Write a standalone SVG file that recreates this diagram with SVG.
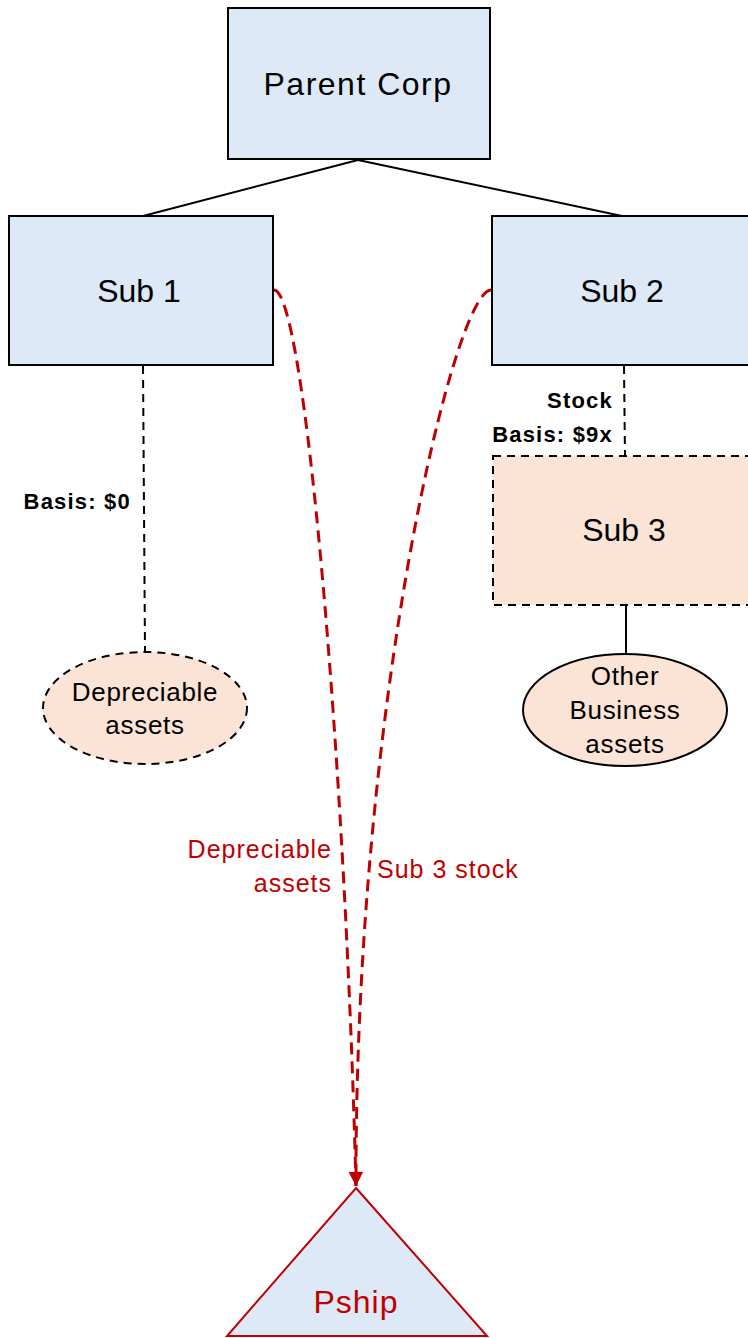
<svg xmlns="http://www.w3.org/2000/svg" width="748" height="1338" viewBox="0 0 748 1338">
  <style>
    .box { fill: #dde9f6; stroke: #000; stroke-width: 2; }
    .peach { fill: #fbe3d6; stroke: #000; stroke-width: 2; }
    .dash { stroke-dasharray: 8 6; }
    .lbl { font-family: "Liberation Sans", Arial, sans-serif; fill: #000; text-anchor: middle; }
    .big { font-size: 32px; }
    .mid { font-size: 26px; letter-spacing: 0.7px; }
    .note { font-family: "Liberation Sans", Arial, sans-serif; font-size: 22px; font-weight: bold; fill: #000; text-anchor: end; letter-spacing: 1.2px; }
    .red { font-family: "Liberation Sans", Arial, sans-serif; font-size: 25px; fill: #c00000; letter-spacing: 1px; }
    .link { fill: none; stroke: #000; stroke-width: 2; }
    .flow { fill: none; stroke: #c00000; stroke-width: 3; stroke-dasharray: 12 7; }
  </style>
  <defs>
    <marker id="arrow" viewBox="0 0 10 10" refX="10" refY="5" markerWidth="16" markerHeight="14" markerUnits="userSpaceOnUse" orient="auto">
      <path d="M0,0 L10,5 L0,10 Z" fill="#c00000"/>
    </marker>
  </defs>

  <!-- ownership and transfer lines -->
  <g id="connectors">
    <line class="link" x1="358" y1="160" x2="143" y2="216"/>
    <line class="link" x1="358" y1="160" x2="622" y2="216"/>
    <line class="link dash" x1="143" y1="366" x2="145" y2="652"/>
    <line class="link dash" x1="624" y1="366" x2="625" y2="456"/>
    <line class="link" x1="626" y1="605" x2="626" y2="654"/>
    <path class="flow" d="M274,290 C305,290 345,760 356,1186" marker-end="url(#arrow)"/>
    <path class="flow" d="M491,290 C455,290 355,700 356,1186" marker-end="url(#arrow)"/>
    <text class="note" x="131" y="509">Basis: $0</text>
    <text class="note" x="613" y="408">Stock</text>
    <text class="note" x="613" y="442">Basis: $9x</text>
    <text class="red" x="332" y="858" text-anchor="end">Depreciable</text>
    <text class="red" x="332" y="892" text-anchor="end">assets</text>
    <text class="red" x="377" y="878">Sub 3 stock</text>
  </g>

  <g id="parent">
    <rect class="box" x="228" y="8" width="262" height="151"/>
    <text class="lbl big" x="358" y="95" letter-spacing="1.5">Parent Corp</text>
  </g>

  <g id="sub1">
    <rect class="box" x="9" y="216" width="264" height="149"/>
    <text class="lbl big" x="139" y="302">Sub 1</text>
  </g>

  <g id="sub2">
    <rect class="box" x="492" y="216" width="280" height="149"/>
    <text class="lbl big" x="622" y="302">Sub 2</text>
  </g>

  <g id="sub3">
    <rect class="peach dash" x="493" y="456" width="280" height="149"/>
    <text class="lbl big" x="624" y="541">Sub 3</text>
  </g>

  <g id="depreciable-assets">
    <ellipse class="peach dash" cx="145" cy="708" rx="102" ry="56"/>
    <text class="lbl mid" x="145" y="701">Depreciable</text>
    <text class="lbl mid" x="145" y="734">assets</text>
  </g>

  <g id="other-business-assets">
    <ellipse class="peach" cx="625" cy="710" rx="102" ry="56"/>
    <text class="lbl mid" x="625" y="685">Other</text>
    <text class="lbl mid" x="625" y="719">Business</text>
    <text class="lbl mid" x="625" y="753">assets</text>
  </g>

  <g id="pship">
    <polygon points="356,1188 487,1336 227,1336" fill="#dde9f6" stroke="#c00000" stroke-width="2"/>
    <text class="lbl" x="356" y="1313" font-size="32" letter-spacing="1" style="fill:#c00000">Pship</text>
  </g>
</svg>
